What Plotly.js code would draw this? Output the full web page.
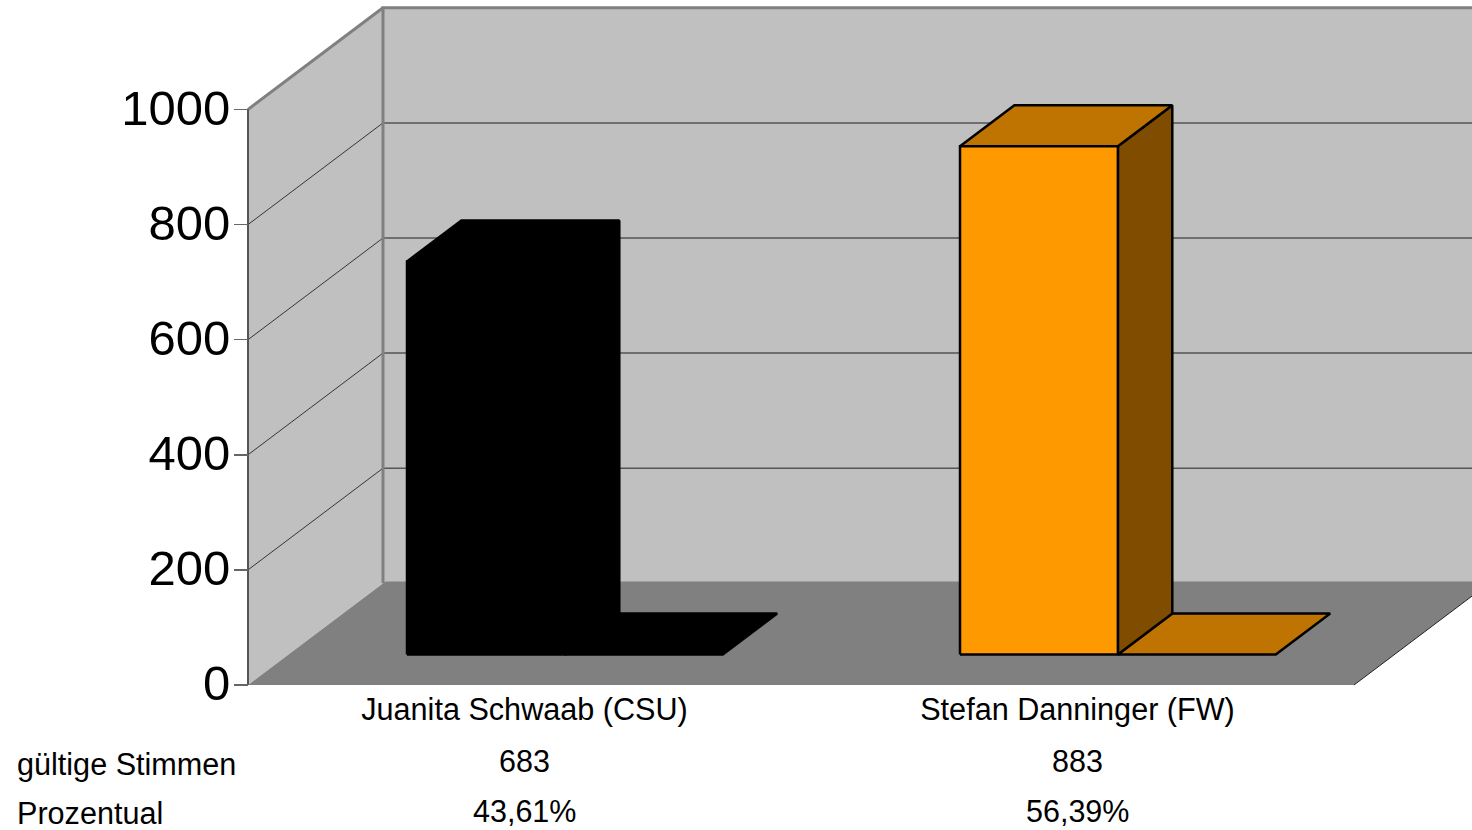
<!DOCTYPE html>
<html>
<head>
<meta charset="utf-8">
<script src="https://cdn.plot.ly/plotly-3.0.1.min.js"></script>
<style>html,body{margin:0;padding:0;background:#fff;overflow:hidden}#chart{width:1472px;height:830px}</style>
</head>
<body>
<div id="chart"></div>
<script>
// ---- data ----
const categories = ['Juanita Schwaab (CSU)', 'Stefan Danninger (FW)'];
const votes = [683, 883];
const voteLabels = ['683', '883'];
const percentLabels = ['43,61%', '56,39%'];
const rowLabels = ['gültige Stimmen', 'Prozentual'];
const tickValues = [0, 200, 400, 600, 800, 1000];
const barColors = ['#000000', '#FF9900'];
const barTopColors = ['#000000', '#BF7300'];
const barSideColors = ['#000000', '#804D00'];

// ---- oblique projection (axis units) ----
const W = 1472, H = 830;
const pxPerCat = 553, pxPerVal = 0.5755, x0px = 248, y0px = 685;
const depthX = 135 / pxPerCat, depthY = 101.7 / pxPerVal;
const yMax = 1000, catMax = 2;
const barStart = [0.2143, 1.2143], barWidth = 0.2855;
const d0 = 0.300, d1 = 0.703, floorBack = 1.018;
const P = (c, v, d) => [c + d * depthX, v + d * depthY];

const traces = [];
function poly(points, fill, line, width) {
  traces.push({
    type: 'scatter', mode: width ? 'lines' : 'none', hoverinfo: 'skip', showlegend: false,
    x: points.map(p => p[0]), y: points.map(p => p[1]),
    fill: fill ? 'toself' : 'none', fillcolor: fill || undefined,
    line: { color: line || 'rgba(0,0,0,0)', width: width || 0 }
  });
}
// walls
poly([P(0, 0, 1), P(catMax, 0, 1), P(catMax, yMax, 1), P(0, yMax, 1), P(0, 0, 1)], '#C0C0C0');
poly([P(0, 0, 0), P(0, 0, 1), P(0, yMax, 1), P(0, yMax, 0), P(0, 0, 0)], '#C0C0C0');
// gridlines
tickValues.slice(1, -1).forEach(v => {
  poly([P(0, v, 0), P(0, v, 1)], null, '#111111', 0.8);
  poly([P(0, v, 1), P(catMax, v, 1)], null, '#555555', 1.5);
});
poly([P(0, 0, 1), P(0, yMax, 1), P(catMax, yMax, 1)], null, '#808080', 3);
poly([P(0, yMax, 0), P(0, yMax, 1)], null, '#808080', 3);
// floor
poly([P(0, 0, 0), P(catMax, 0, 0), P(catMax, 0, floorBack), P(0, 0, floorBack), P(0, 0, 0)], '#808080');
poly([P(0, 0, 0), P(0, yMax, 0)], null, '#555555', 2);
poly([P(catMax, 0, 0), P(catMax, 0, 1)], null, '#222222', 1);
// bars
votes.forEach((v, i) => {
  const a = barStart[i], b = a + barWidth, c = b + barWidth;
  const lw = 2.5, lc = '#000000';
  poly([P(b, 0, d0), P(c, 0, d0), P(c, 0, d1), P(b, 0, d1), P(b, 0, d0)], barTopColors[i], lc, lw);
  poly([P(b, 0, d0), P(b, 0, d1), P(b, v, d1), P(b, v, d0), P(b, 0, d0)], barSideColors[i], lc, lw);
  poly([P(a, v, d0), P(b, v, d0), P(b, v, d1), P(a, v, d1), P(a, v, d0)], barTopColors[i], lc, lw);
  poly([P(a, 0, d0), P(b, 0, d0), P(b, v, d0), P(a, v, d0), P(a, 0, d0)], barColors[i], lc, lw);
});

const font = 'Liberation Sans, Arial, sans-serif';
const rowY = [761, 811], rowLabelY = [764, 813];
const annotations = [];
[voteLabels, percentLabels].forEach((row, r) => {
  row.forEach((t, i) => annotations.push({
    text: t, xref: 'x', x: i + 0.5, yref: 'paper', y: 1 - rowY[r] / H,
    xanchor: 'center', yanchor: 'middle', showarrow: false, font: { family: font, size: 30.5, color: '#000' }
  }));
  annotations.push({
    text: rowLabels[r], xref: 'paper', x: 15 / W, yref: 'paper', y: 1 - rowLabelY[r] / H,
    xanchor: 'left', yanchor: 'middle', showarrow: false, font: { family: font, size: 30.6, color: '#000' }
  });
});

const layout = {
  width: W, height: H, margin: { l: 0, r: 0, t: 0, b: 0 },
  paper_bgcolor: '#fff', plot_bgcolor: 'rgba(0,0,0,0)', showlegend: false,
  xaxis: {
    range: [-x0px / pxPerCat, (W - x0px) / pxPerCat], showgrid: false, zeroline: false, showline: false,
    tickmode: 'array', tickvals: categories.map((_, i) => i + 0.5), ticktext: categories,
    ticks: '', tickangle: 0,
    tickfont: { family: font, size: 30.6, color: '#000' },
    anchor: 'free', position: 1 - 688 / H, side: 'bottom'
  },
  yaxis: {
    range: [-(H - y0px) / pxPerVal, y0px / pxPerVal], showgrid: false, zeroline: false, showline: false,
    tickmode: 'array', tickvals: tickValues, ticktext: tickValues.map(String),
    ticks: 'outside', ticklen: 14, tickwidth: 1.5, tickcolor: '#666666',
    ticklabelstandoff: -6, ticklabelshift: -2,
    tickfont: { family: font, size: 49, color: '#000' },
    anchor: 'free', position: x0px / W, side: 'left'
  },
  annotations
};
Plotly.newPlot('chart', traces, layout, { staticPlot: true, displayModeBar: false });
</script>
</body>
</html>
